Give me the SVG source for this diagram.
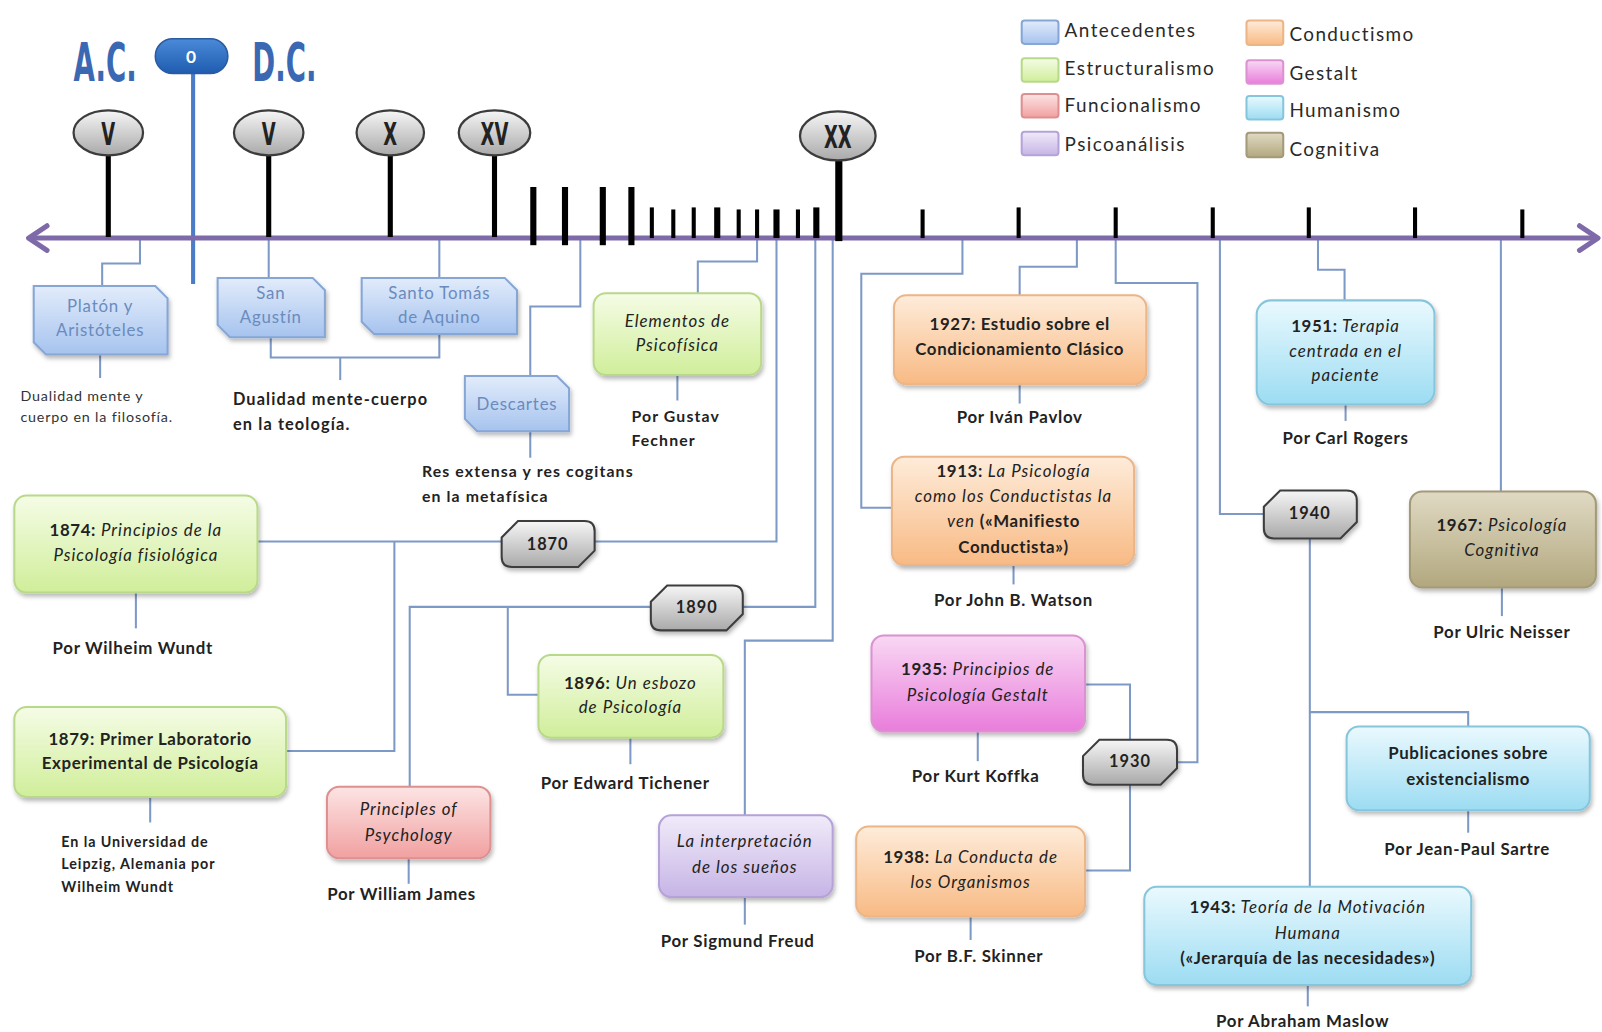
<svg xmlns="http://www.w3.org/2000/svg" width="1602" height="1032" viewBox="0 0 1602 1032">
  <defs>
    <linearGradient id="gBlue" x1="0" y1="0" x2="0" y2="1"><stop offset="0" stop-color="#e2ecfb"/><stop offset="1" stop-color="#a6c3ee"/></linearGradient>
    <linearGradient id="gGreen" x1="0" y1="0" x2="0" y2="1"><stop offset="0" stop-color="#f5fce6"/><stop offset="1" stop-color="#d0ee9a"/></linearGradient>
    <linearGradient id="gRed" x1="0" y1="0" x2="0" y2="1"><stop offset="0" stop-color="#fde4e4"/><stop offset="1" stop-color="#f1a0a0"/></linearGradient>
    <linearGradient id="gPurple" x1="0" y1="0" x2="0" y2="1"><stop offset="0" stop-color="#f1ebf9"/><stop offset="1" stop-color="#c6b4e6"/></linearGradient>
    <linearGradient id="gOrange" x1="0" y1="0" x2="0" y2="1"><stop offset="0" stop-color="#feecda"/><stop offset="1" stop-color="#f8ba84"/></linearGradient>
    <linearGradient id="gPink" x1="0" y1="0" x2="0" y2="1"><stop offset="0" stop-color="#f9d8f4"/><stop offset="1" stop-color="#e97ddb"/></linearGradient>
    <linearGradient id="gCyan" x1="0" y1="0" x2="0" y2="1"><stop offset="0" stop-color="#eaf9fe"/><stop offset="1" stop-color="#9cdcf2"/></linearGradient>
    <linearGradient id="gKhaki" x1="0" y1="0" x2="0" y2="1"><stop offset="0" stop-color="#e0dac4"/><stop offset="1" stop-color="#b2a77e"/></linearGradient>
    <linearGradient id="gGray" x1="0" y1="0" x2="0" y2="1"><stop offset="0" stop-color="#f6f6f6"/><stop offset="1" stop-color="#a9a9a9"/></linearGradient>
    <linearGradient id="gPill" x1="0" y1="0" x2="0" y2="1"><stop offset="0" stop-color="#4a8ad8"/><stop offset="1" stop-color="#1f5cb0"/></linearGradient>
    <filter id="shadow" x="-10%" y="-10%" width="125%" height="135%">
      <feDropShadow dx="1.5" dy="3" stdDeviation="2" flood-color="#000" flood-opacity="0.28"/>
    </filter>
    <style>
      text { font-family: Lato, "Liberation Sans", sans-serif; fill: #222; }
      .box { stroke-width: 2; filter: url(#shadow); }
      .blue { fill: url(#gBlue); stroke: #86a6d6; }
      .green { fill: url(#gGreen); stroke: #b9d98a; }
      .red { fill: url(#gRed); stroke: #de9090; }
      .purple { fill: url(#gPurple); stroke: #b4a2d8; }
      .orange { fill: url(#gOrange); stroke: #ebb587; }
      .pink { fill: url(#gPink); stroke: #db92d0; }
      .cyan { fill: url(#gCyan); stroke: #86c6dc; }
      .khaki { fill: url(#gKhaki); stroke: #a29a78; }
      .hex { fill: url(#gGray); stroke: #3c3c3c; stroke-width: 2; filter: url(#shadow); }
      .oval { fill: url(#gGray); stroke: #3c3c3c; stroke-width: 2.2; }
      .stem { stroke: #000; stroke-width: 5; }
      .tick { stroke: #000; stroke-width: 4; }
      .tall { stroke: #000; stroke-width: 6; }
      .conn { fill: none; stroke: #7d99c6; stroke-width: 2; }
      .bt { font-size: 16.5px; text-anchor: middle; letter-spacing: 0.6px; }
      .b { font-weight: bold; }
      .i { font-style: italic; letter-spacing: 1px; }
      .ante { font-size: 16.5px; text-anchor: middle; fill: #6a8bbd; letter-spacing: 0.8px; }
      .by { font-size: 16.5px; font-weight: bold; text-anchor: middle; letter-spacing: 0.7px; }
      .note { font-size: 15.5px; font-weight: bold; letter-spacing: 1.1px; }
      .small { font-size: 14px; letter-spacing: 0.8px; fill: #333; }
      .uni { font-size: 14px; font-weight: bold; letter-spacing: 0.9px; }
      .leg { font-size: 18.5px; letter-spacing: 1.4px; fill: #2a2a2a; }
      .yr { font-size: 16px; font-weight: bold; text-anchor: middle; letter-spacing: 1px; }
      .roman { font-family: "DejaVu Sans", "Liberation Sans", sans-serif; font-weight: bold; font-size: 32px; text-anchor: middle; fill: #222; }
      .era { font-family: "DejaVu Sans", "Liberation Sans", sans-serif; font-weight: bold; font-size: 52px; fill: #3b68b2; }
    </style>
  </defs>

  <rect width="1602" height="1032" fill="#fff"/>

  <g transform="scale(1.0217)">

    <!-- era header: A.C. / 0 / D.C. -->
    <g id="era">
      <line x1="189" y1="70" x2="189" y2="278" stroke="#4a7cc8" stroke-width="4"/>
      <text class="era" transform="translate(72,79) scale(0.52,1)">A.C.</text>
      <text class="era" transform="translate(247,79) scale(0.52,1)">D.C.</text>
      <rect x="152" y="38" width="71" height="34" rx="17" fill="url(#gPill)" stroke="#2a5aa0" stroke-width="1.5"/>
      <text x="187" y="62" font-size="17" font-weight="bold" text-anchor="middle" style="fill:#fff">0</text>
    </g>

    <!-- connectors -->
    <g id="connectors" class="conn">
      <path d="M137,233 V258 H100 V280"/>
      <path d="M98,347 V370"/>
      <path d="M263,233 V272"/>
      <path d="M430,233 V272"/>
      <path d="M265,330 V350 H430 V327"/>
      <path d="M333,350 V372"/>
      <path d="M568,233 V300 H519 V368"/>
      <path d="M519,422 V448"/>
      <path d="M741,233 V256 H683 V287"/>
      <path d="M663,367 V392"/>
      <path d="M252,530 H491"/>
      <path d="M582,530 H760 V233"/>
      <path d="M280,735 H386 V530"/>
      <path d="M133,580 V615"/>
      <path d="M147,780 V805"/>
      <path d="M727,594 H798 V233"/>
      <path d="M637,594 H401 V770"/>
      <path d="M497,594 V680 H527"/>
      <path d="M617,722 V748"/>
      <path d="M400,840 V865"/>
      <path d="M815,233 V627 H729 V798"/>
      <path d="M729,878 V905"/>
      <path d="M1054,233 V261 H998 V289"/>
      <path d="M998,376 V395"/>
      <path d="M942,233 V268 H843 V497 H873"/>
      <path d="M992,553 V572"/>
      <path d="M1152,746 H1172 V277 H1092 V233"/>
      <path d="M1062,670 H1106 V724"/>
      <path d="M1106,768 V852 H1062"/>
      <path d="M957,716 V745"/>
      <path d="M950,897 V920"/>
      <path d="M1290,233 V264 H1316 V294"/>
      <path d="M1317,396 V412"/>
      <path d="M1237,503 H1194 V233"/>
      <path d="M1282,527 V868"/>
      <path d="M1282,697 H1437 V711"/>
      <path d="M1437,793 V815"/>
      <path d="M1280,964 V985"/>
      <path d="M1469,233 V481"/>
      <path d="M1470,575 V603"/>
    </g>

    <!-- timeline axis with ticks -->
    <g id="timeline">
      <line x1="30" y1="233" x2="1562" y2="233" stroke="#7e6aa8" stroke-width="5"/>
      <path d="M46,221 L28,233 L46,245" fill="none" stroke="#7e6aa8" stroke-width="5" stroke-linecap="round" stroke-linejoin="round"/>
      <path d="M1546,221 L1564,233 L1546,245" fill="none" stroke="#7e6aa8" stroke-width="5" stroke-linecap="round" stroke-linejoin="round"/>
      <line class="tall" x1="522" y1="183" x2="522" y2="240"/>
      <line class="tall" x1="553" y1="183" x2="553" y2="240"/>
      <line class="tall" x1="590" y1="183" x2="590" y2="240"/>
      <line class="tall" x1="618" y1="183" x2="618" y2="240"/>
      <line class="tick" x1="638" y1="203" x2="638" y2="233"/>
      <line class="tick" x1="659" y1="205" x2="659" y2="233"/>
      <line class="tick" x1="679" y1="203" x2="679" y2="233"/>
      <line class="tall" x1="702" y1="203" x2="702" y2="233"/>
      <line class="tick" x1="723" y1="205" x2="723" y2="233"/>
      <line class="tick" x1="741" y1="205" x2="741" y2="233"/>
      <line class="tall" x1="760" y1="205" x2="760" y2="233"/>
      <line class="tick" x1="781" y1="205" x2="781" y2="233"/>
      <line class="tall" x1="799" y1="203" x2="799" y2="233"/>
      <line class="tick" x1="903" y1="205" x2="903" y2="233"/>
      <line class="tick" x1="997" y1="203" x2="997" y2="233"/>
      <line class="tick" x1="1092" y1="203" x2="1092" y2="233"/>
      <line class="tick" x1="1187" y1="203" x2="1187" y2="233"/>
      <line class="tick" x1="1281" y1="203" x2="1281" y2="233"/>
      <line class="tick" x1="1385" y1="203" x2="1385" y2="233"/>
      <line class="tick" x1="1490" y1="205" x2="1490" y2="233"/>
    </g>

    <!-- century markers -->
    <g id="century-v-ac">
      <line class="stem" x1="106" y1="150" x2="106" y2="232"/>
      <ellipse class="oval" cx="106" cy="130" rx="34" ry="22"/>
      <text class="roman" transform="translate(106,142) scale(0.55,1)">V</text>
    </g>
    <g id="century-v-dc">
      <line class="stem" x1="263" y1="150" x2="263" y2="232"/>
      <ellipse class="oval" cx="263" cy="130" rx="34" ry="22"/>
      <text class="roman" transform="translate(263,142) scale(0.55,1)">V</text>
    </g>
    <g id="century-x">
      <line class="stem" x1="382" y1="150" x2="382" y2="232"/>
      <ellipse class="oval" cx="382" cy="130" rx="33" ry="22"/>
      <text class="roman" transform="translate(382,142) scale(0.55,1)">X</text>
    </g>
    <g id="century-xv">
      <line class="stem" x1="484" y1="150" x2="484" y2="232"/>
      <ellipse class="oval" cx="484" cy="130" rx="35" ry="22"/>
      <text class="roman" transform="translate(484,142) scale(0.55,1)">XV</text>
    </g>
    <g id="century-xx">
      <line x1="821" y1="152" x2="821" y2="236" stroke="#000" stroke-width="7"/>
      <ellipse class="oval" cx="820" cy="133" rx="37" ry="24"/>
      <text class="roman" transform="translate(820,145) scale(0.55,1)">XX</text>
    </g>

    <!-- legend -->
    <g id="legend">
      <rect x="1000" y="20" width="36" height="23" rx="3" class="blue" stroke-width="2"/>
      <text class="leg" x="1042" y="36">Antecedentes</text>
      <rect x="1000" y="57" width="36" height="23" rx="3" class="green" stroke-width="2"/>
      <text class="leg" x="1042" y="73">Estructuralismo</text>
      <rect x="1000" y="92" width="36" height="23" rx="3" class="red" stroke-width="2"/>
      <text class="leg" x="1042" y="110">Funcionalismo</text>
      <rect x="1000" y="129" width="36" height="23" rx="3" class="purple" stroke-width="2"/>
      <text class="leg" x="1042" y="148">Psicoanálisis</text>
      <rect x="1220" y="20" width="36" height="24" rx="3" class="orange" stroke-width="2"/>
      <text class="leg" x="1262" y="40">Conductismo</text>
      <rect x="1220" y="59" width="36" height="23" rx="3" class="pink" stroke-width="2"/>
      <text class="leg" x="1262" y="78">Gestalt</text>
      <rect x="1220" y="94" width="36" height="23" rx="3" class="cyan" stroke-width="2"/>
      <text class="leg" x="1262" y="115">Humanismo</text>
      <rect x="1220" y="130" width="36" height="24" rx="3" class="khaki" stroke-width="2"/>
      <text class="leg" x="1262" y="153">Cognitiva</text>
    </g>

    <!-- Antecedentes -->
    <g id="platon-aristoteles">
      <path class="box blue" d="M33,280 H152 L164,292 V347 H45 L33,335 Z"/>
      <text class="ante" x="98" y="305">Platón y</text>
      <text class="ante" x="98" y="329">Aristóteles</text>
      <text class="small" x="20" y="392">Dualidad mente y</text>
      <text class="small" x="20" y="413">cuerpo en la filosofía.</text>
    </g>
    <g id="san-agustin">
      <path class="box blue" d="M213,272 H306 L318,284 V330 H225 L213,318 Z"/>
      <text class="ante" x="265" y="293">San</text>
      <text class="ante" x="265" y="316">Agustín</text>
    </g>
    <g id="santo-tomas">
      <path class="box blue" d="M354,272 H494 L506,284 V327 H366 L354,315 Z"/>
      <text class="ante" x="430" y="293">Santo Tomás</text>
      <text class="ante" x="430" y="316">de Aquino</text>
      <text class="note" x="228" y="396" style="font-size:16px">Dualidad mente-cuerpo</text>
      <text class="note" x="228" y="421" style="font-size:16px">en la teología.</text>
    </g>
    <g id="descartes">
      <path class="box blue" d="M455,368 H545 L557,380 V422 H467 L455,410 Z"/>
      <text class="ante" x="506" y="401">Descartes</text>
      <text class="note" x="413" y="467">Res extensa y res cogitans</text>
      <text class="note" x="413" y="491">en la metafísica</text>
    </g>

    <!-- Estructuralismo -->
    <g id="elementos-psicofisica">
      <rect class="box green" x="581" y="287" width="164" height="80" rx="12"/>
      <text class="bt i" x="663" y="320">Elementos de</text>
      <text class="bt i" x="663" y="344">Psicofísica</text>
      <text class="note" x="618" y="413">Por Gustav</text>
      <text class="note" x="618" y="437">Fechner</text>
    </g>
    <g id="wundt-1874">
      <rect class="box green" x="14" y="485" width="238" height="95" rx="12"/>
      <text class="bt" x="133" y="525"><tspan class="b">1874:</tspan><tspan class="i"> Principios de la</tspan></text>
      <text class="bt i" x="133" y="549">Psicología fisiológica</text>
      <text class="by" x="130" y="640">Por Wilheim Wundt</text>
    </g>
    <g id="wundt-1879">
      <rect class="box green" x="14" y="692" width="266" height="88" rx="12"/>
      <text class="bt b" x="147" y="729">1879: Primer Laboratorio</text>
      <text class="bt b" x="147" y="753">Experimental de Psicología</text>
      <text class="uni" x="60" y="829">En la Universidad de</text>
      <text class="uni" x="60" y="851">Leipzig, Alemania por</text>
      <text class="uni" x="60" y="873">Wilheim Wundt</text>
    </g>
    <g id="titchener-1896">
      <rect class="box green" x="527" y="641" width="181" height="81" rx="12"/>
      <text class="bt" x="617" y="674"><tspan class="b">1896:</tspan><tspan class="i"> Un esbozo</tspan></text>
      <text class="bt i" x="617" y="698">de Psicología</text>
      <text class="by" x="612" y="772">Por Edward Tichener</text>
    </g>

    <!-- Funcionalismo -->
    <g id="principles-psychology">
      <rect class="box red" x="320" y="770" width="160" height="70" rx="12"/>
      <text class="bt i" x="400" y="798">Principles of</text>
      <text class="bt i" x="400" y="823">Psychology</text>
      <text class="by" x="393" y="881">Por William James</text>
    </g>

    <!-- Psicoanálisis -->
    <g id="interpretacion-suenos">
      <rect class="box purple" x="645" y="798" width="170" height="80" rx="12"/>
      <text class="bt i" x="729" y="829">La interpretación</text>
      <text class="bt i" x="729" y="854">de los sueños</text>
      <text class="by" x="722" y="927">Por Sigmund Freud</text>
    </g>

    <!-- Conductismo -->
    <g id="pavlov-1927">
      <rect class="box orange" x="875" y="289" width="247" height="87" rx="12"/>
      <text class="bt b" x="998" y="323">1927: Estudio sobre el</text>
      <text class="bt b" x="998" y="347">Condicionamiento Clásico</text>
      <text class="by" x="998" y="414">Por Iván Pavlov</text>
    </g>
    <g id="watson-1913">
      <rect class="box orange" x="873" y="447" width="237" height="106" rx="12"/>
      <text class="bt" x="992" y="467"><tspan class="b">1913:</tspan><tspan class="i"> La Psicología</tspan></text>
      <text class="bt i" x="992" y="491">como los Conductistas la</text>
      <text class="bt" x="992" y="516"><tspan class="i">ven</tspan><tspan class="b"> («Manifiesto</tspan></text>
      <text class="bt b" x="992" y="541">Conductista»)</text>
      <text class="by" x="992" y="593">Por John B. Watson</text>
    </g>
    <g id="skinner-1938">
      <rect class="box orange" x="838" y="809" width="224" height="88" rx="12"/>
      <text class="bt" x="950" y="845"><tspan class="b">1938:</tspan><tspan class="i"> La Conducta de</tspan></text>
      <text class="bt i" x="950" y="869">los Organismos</text>
      <text class="by" x="958" y="942">Por B.F. Skinner</text>
    </g>

    <!-- Gestalt -->
    <g id="koffka-1935">
      <rect class="box pink" x="853" y="622" width="209" height="94" rx="12"/>
      <text class="bt" x="957" y="661"><tspan class="b">1935:</tspan><tspan class="i"> Principios de</tspan></text>
      <text class="bt i" x="957" y="686">Psicología Gestalt</text>
      <text class="by" x="955" y="765">Por Kurt Koffka</text>
    </g>

    <!-- Humanismo -->
    <g id="rogers-1951">
      <rect class="box cyan" x="1230" y="294" width="174" height="102" rx="14"/>
      <text class="bt" x="1317" y="325"><tspan class="b">1951:</tspan><tspan class="i"> Terapia</tspan></text>
      <text class="bt i" x="1317" y="349">centrada en el</text>
      <text class="bt i" x="1317" y="373">paciente</text>
      <text class="by" x="1317" y="435">Por Carl Rogers</text>
    </g>
    <g id="sartre">
      <rect class="box cyan" x="1318" y="711" width="238" height="82" rx="12"/>
      <text class="bt b" x="1437" y="743">Publicaciones sobre</text>
      <text class="bt b" x="1437" y="768">existencialismo</text>
      <text class="by" x="1436" y="837">Por Jean-Paul Sartre</text>
    </g>
    <g id="maslow-1943">
      <rect class="box cyan" x="1120" y="868" width="320" height="96" rx="12"/>
      <text class="bt" x="1280" y="894"><tspan class="b">1943:</tspan><tspan class="i"> Teoría de la Motivación</tspan></text>
      <text class="bt i" x="1280" y="919">Humana</text>
      <text class="bt b" x="1280" y="944">(«Jerarquía de las necesidades»)</text>
      <text class="by" x="1275" y="1005">Por Abraham Maslow</text>
    </g>

    <!-- Cognitiva -->
    <g id="neisser-1967">
      <rect class="box khaki" x="1380" y="481" width="182" height="94" rx="12"/>
      <text class="bt" x="1470" y="520"><tspan class="b">1967:</tspan><tspan class="i"> Psicología</tspan></text>
      <text class="bt i" x="1470" y="544">Cognitiva</text>
      <text class="by" x="1470" y="624">Por Ulric Neisser</text>
    </g>

    <!-- decade markers -->
    <g id="year-1870">
      <path class="hex" d="M507,510 H572 Q582,510 582,520 V539 L566,555 H501 Q491,555 491,545 V526 Z"/>
      <text class="yr" x="536" y="538">1870</text>
    </g>
    <g id="year-1890">
      <path class="hex" d="M653,573 H717 Q727,573 727,583 V601 L711,617 H647 Q637,617 637,607 V589 Z"/>
      <text class="yr" x="682" y="600">1890</text>
    </g>
    <g id="year-1930">
      <path class="hex" d="M1076,724 H1142 Q1152,724 1152,734 V752 L1136,768 H1070 Q1060,768 1060,758 V740 Z"/>
      <text class="yr" x="1106" y="751">1930</text>
    </g>
    <g id="year-1940">
      <path class="hex" d="M1253,480 H1318 Q1328,480 1328,490 V511 L1312,527 H1247 Q1237,527 1237,517 V496 Z"/>
      <text class="yr" x="1282" y="508">1940</text>
    </g>

  </g>
</svg>
